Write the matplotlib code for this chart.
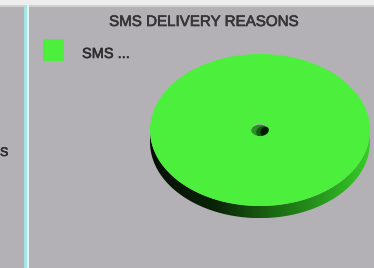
import numpy as np
import matplotlib
matplotlib.use("Agg")
from matplotlib import pyplot as plt
from matplotlib import patheffects as pe
from matplotlib.patches import Rectangle, Ellipse, PathPatch
from matplotlib.path import Path

# chart data
labels = ["SMS ..."]
values = [100]
colors = ["#4cf03c"]
title = "SMS DELIVERY REASONS"

W, H = 374, 268
bg = "#b3b1b5"

fig = plt.figure(figsize=(W / 100, H / 100), dpi=100)
fig.patch.set_facecolor(bg)

# pixel overlay for panels, legend and text
ov = fig.add_axes([0, 0, 1, 1])
ov.set_xlim(0, W)
ov.set_ylim(H, 0)
ov.axis("off")
ov.add_patch(Rectangle((0, 0), W, 5, color="#ededed", lw=0))
ov.add_patch(Rectangle((0, 5), W, 1.5, color="#cfcfd0", lw=0))
ov.add_patch(Rectangle((24, 5), 3.5, H, color="#a6e4e4", lw=0))
ov.add_patch(Rectangle((27.5, 5), 1.5, H, color="#e2f4f4", lw=0))
thick = [pe.withStroke(linewidth=0.45, foreground="#333333")]
ov.text(0, 153, "S", fontsize=9, family="Liberation Sans", color="#2c2c2c",
        va="center", ha="left", path_effects=thick)
ov.text(204, 22, title, fontsize=10.9, family="Liberation Sans", color="#363636",
        va="center", ha="center", path_effects=thick)
for i, lab in enumerate(labels):
    ov.add_patch(Rectangle((43, 39 + i * 24), 21, 22, color=colors[i], lw=0))
    ov.text(82, 54 + i * 24, lab, fontsize=10.5, family="Liberation Sans",
            color="#2e2e2e", va="center", ha="left", path_effects=thick)

# pie axes: unit circle -> ellipse rx=110 px, ry=76 px centred at (260,130)
cx, cy, rx, ry = 260, 130, 110, 76
x0, x1, y0, y1 = 140, 374, 40, 240
ax = fig.add_axes([x0 / W, (H - y1) / H, (x1 - x0) / W, (y1 - y0) / H])
ax.set_xlim((x0 - cx) / rx, (x1 - cx) / rx)
ax.set_ylim((cy - y1) / ry, (cy - y0) / ry)
ax.set_aspect("auto")
ax.axis("off")

# side of the disc with horizontal shading
d = 0.16
t = np.linspace(np.pi, 2 * np.pi, 120)
outer = np.column_stack([np.cos(t), np.sin(t) - d])
inner = np.column_stack([np.cos(t[::-1]), np.sin(t[::-1])])
verts = np.vstack([[[-1, 0]], outer, [[1, 0]], inner, [[-1, 0]]])
band = PathPatch(Path(verts), facecolor="none", edgecolor="none")
ax.add_patch(band)
g = np.linspace(0, 1, 256)
stops = [0, 0.3, 0.55, 0.8, 1]
r = np.interp(g, stops, [0.02, 0.04, 0.10, 0.16, 0.22])
gg = np.interp(g, stops, [0.06, 0.14, 0.40, 0.62, 0.80])
b = np.interp(g, stops, [0.02, 0.03, 0.07, 0.12, 0.16])
img = np.repeat(np.dstack([r, gg, b]), 4, axis=0)
im = ax.imshow(img, extent=[-1, 1, -1 - d, 0], aspect="auto", zorder=1)
im.set_clip_path(band)

# centre hole (dark, seen through the donut hole)
ax.add_patch(Ellipse((0.0, -0.02), 0.17, 0.18, color="#2f8f26", lw=0, zorder=2))
ax.add_patch(Ellipse((0.03, -0.03), 0.13, 0.16, color="#145a12", lw=0, zorder=2))
ax.add_patch(Ellipse((0.05, -0.03), 0.09, 0.14, color="#031d03", lw=0, zorder=2))

ax.pie(values, colors=colors, radius=1, startangle=90, counterclock=False,
       center=(0, 0), wedgeprops=dict(width=0.92, linewidth=0, zorder=3))
ax.set_xlim((x0 - cx) / rx, (x1 - cx) / rx)
ax.set_ylim((cy - y1) / ry, (cy - y0) / ry)
ax.set_aspect("auto")

fig.savefig("out.png", dpi=100, facecolor=bg)
